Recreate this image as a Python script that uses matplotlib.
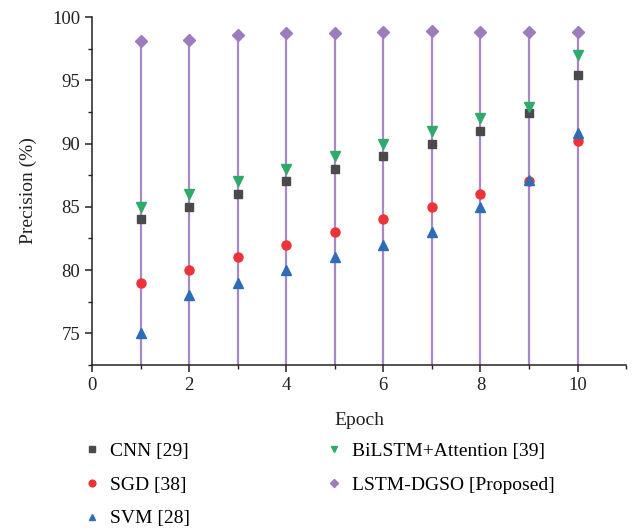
import matplotlib
matplotlib.use('Agg')
import matplotlib.pyplot as plt
from matplotlib.ticker import MultipleLocator

plt.rcParams['font.family'] = ['Liberation Serif', 'DejaVu Serif']

epochs = [1, 2, 3, 4, 5, 6, 7, 8, 9, 10]
cnn = [84, 85, 86, 87, 88, 89, 90, 91, 92.4, 95.4]
sgd = [79, 80, 81, 82, 83, 84, 85, 86, 87, 90.2]
svm = [75, 78, 79, 80, 81, 82, 83, 85, 87.1, 90.8]
bilstm = [85, 86, 87, 88, 89, 90, 91, 92, 92.9, 97]
lstm_dgso = [98.1, 98.2, 98.6, 98.7, 98.7, 98.8, 98.9, 98.8, 98.8, 98.8]

fig = plt.figure(figsize=(6.35, 5.32), dpi=100)
ax = fig.add_axes([0.145, 0.314, 0.841, 0.654])

y_bottom = 72.5
ax.vlines(epochs, y_bottom, lstm_dgso, color='#a888c8', lw=1.6, zorder=1)

ax.plot(epochs, cnn, 's', color='#4a4a4a', ms=5.5, label='CNN [29]', zorder=3)
ax.plot(epochs, sgd, 'o', color='#ee3338', ms=6.5, label='SGD [38]', zorder=3)
ax.plot(epochs, svm, '^', color='#2d6db5', ms=6.5, label='SVM [28]', zorder=4)
ax.plot(epochs, bilstm, 'v', color='#2eaa6b', ms=6.5, label='BiLSTM+Attention [39]', zorder=3)
ax.plot(epochs, lstm_dgso, 'D', color='#9e7bbf', ms=6, label='LSTM-DGSO [Proposed]', zorder=3)

ax.set_xlim(0, 11)
ax.set_ylim(y_bottom, 100)
ax.xaxis.set_major_locator(MultipleLocator(2))
ax.xaxis.set_minor_locator(MultipleLocator(1))
ax.yaxis.set_major_locator(MultipleLocator(5))
ax.yaxis.set_minor_locator(MultipleLocator(2.5))
ax.tick_params(which='major', direction='out', length=5, width=1.1, labelsize=13.5, colors='#222222')
ax.tick_params(which='minor', direction='out', length=3, width=1.0, colors='#222222')

for s in ['top', 'right']:
    ax.spines[s].set_visible(False)
for s in ['left', 'bottom']:
    ax.spines[s].set_linewidth(1.1)
    ax.spines[s].set_color('#222222')

ax.set_xlabel('Epoch', fontsize=14, color='#222222', labelpad=13)
ax.set_ylabel('Precision (%)', fontsize=14, color='#222222', labelpad=11)

fig.legend(loc='upper left', bbox_to_anchor=(0.129, 0.168), ncol=2, frameon=False,
           fontsize=14, markerscale=0.75, handlelength=1.0, handletextpad=0.45,
           columnspacing=6.9, labelspacing=0.82, borderaxespad=0, borderpad=0)

fig.savefig('out.png', dpi=100)
